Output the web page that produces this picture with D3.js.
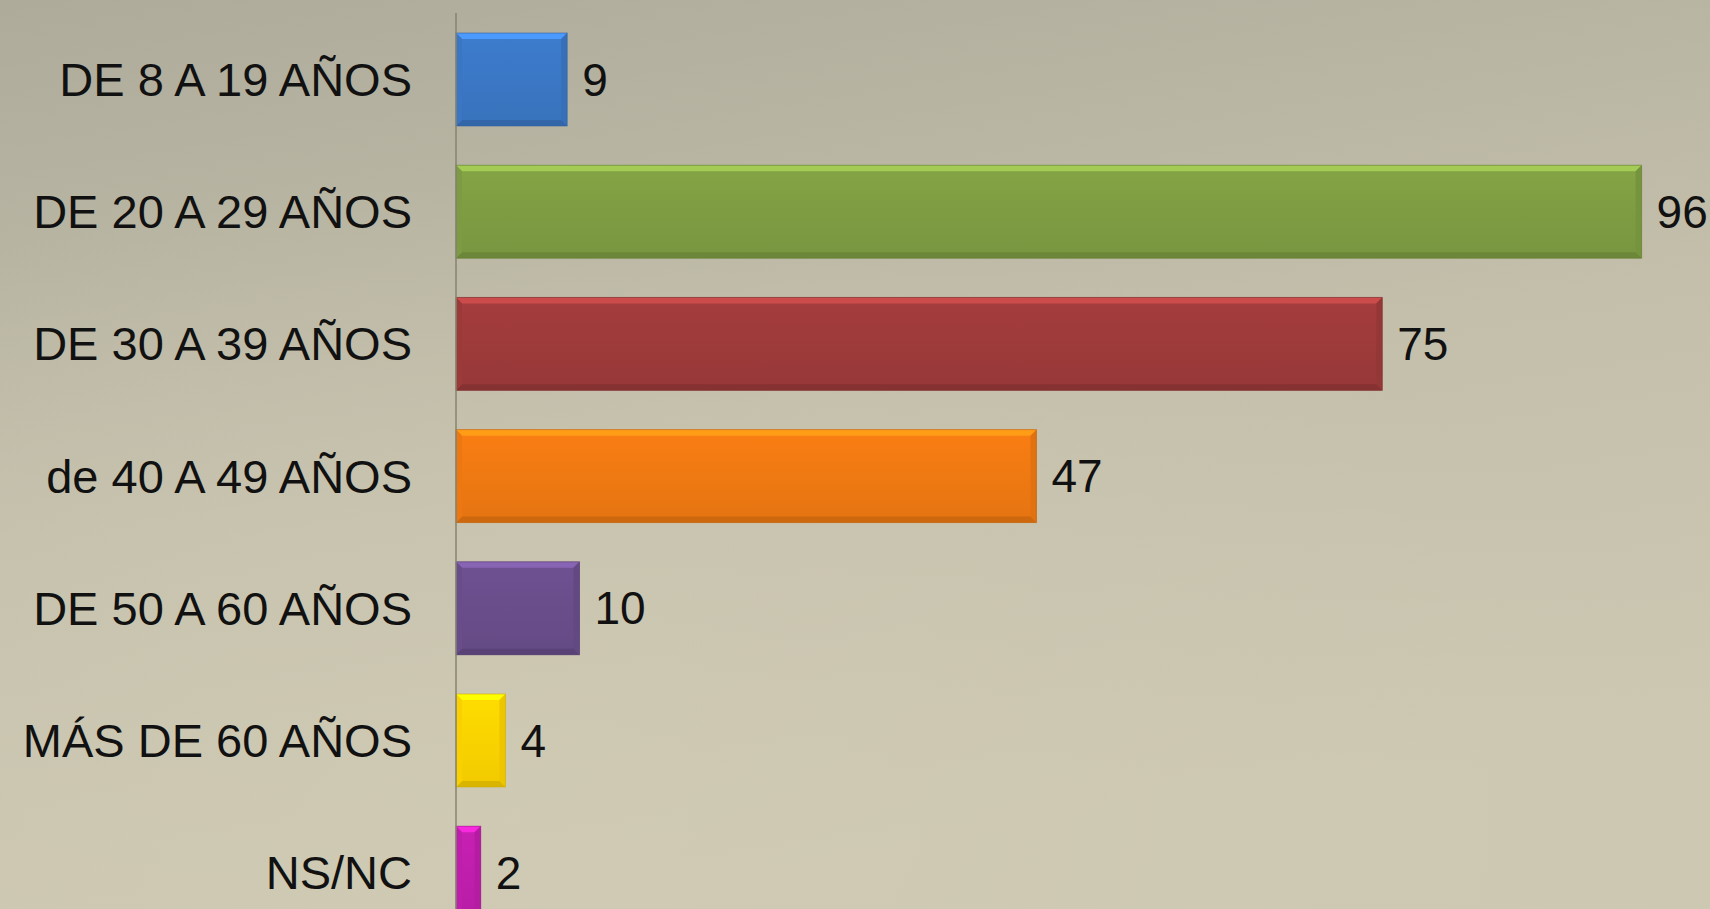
<!DOCTYPE html>
<html><head><meta charset="utf-8">
<script src="https://cdn.jsdelivr.net/npm/d3@7"></script>
<style>html,body{margin:0;padding:0;overflow:hidden;background:#bdb9a6}</style>
</head><body>
<svg id="c" width="1710" height="909"></svg>
<script>
const categories = ["DE 8 A 19 AÑOS","DE 20 A 29 AÑOS","DE 30 A 39 AÑOS","de 40 A 49 AÑOS","DE 50 A 60 AÑOS","MÁS DE 60 AÑOS","NS/NC"];
const values = [9,96,75,47,10,4,2];
const colors = ["#3b78c6","#7f9e43","#9f3b3b","#f17a12","#6a4e8c","#ffd500","#c11fae"];

const W=1710,H=909;
const svg=d3.select("#c");
const defs=svg.append("defs");
const bg=defs.append("linearGradient").attr("id","bg").attr("x1",0).attr("y1",0).attr("x2",0.3).attr("y2",1);
bg.append("stop").attr("offset","0%").attr("stop-color","#aeab9b");
bg.append("stop").attr("offset","55%").attr("stop-color","#c3bfab");
bg.append("stop").attr("offset","100%").attr("stop-color","#cdc8b2");
const rg=defs.append("radialGradient").attr("id","rg").attr("cx",0.3).attr("cy",0.9).attr("r",0.7);
rg.append("stop").attr("offset","0%").attr("stop-color","#d2ccb6").attr("stop-opacity",0.6);
rg.append("stop").attr("offset","100%").attr("stop-color","#d2ccb6").attr("stop-opacity",0);
svg.append("rect").attr("width",W).attr("height",H).attr("fill","url(#bg)");
svg.append("rect").attr("width",W).attr("height",H).attr("fill","url(#rg)");

colors.forEach((c,i)=>{
  const g=defs.append("linearGradient").attr("id","g"+i).attr("x1",0).attr("y1",0).attr("x2",0).attr("y2",1);
  g.append("stop").attr("offset","0%").attr("stop-color",d3.color(c).brighter(0.1));
  g.append("stop").attr("offset","100%").attr("stop-color",d3.color(c).darker(0.15));
});

const x=d3.scaleLinear().domain([0,100]).range([456,1691]);
const y=d3.scaleBand().domain(categories).range([13.4,938.8]).paddingInner(0.297).paddingOuter(0.1485);
const b=6;
const data=categories.map((c,i)=>({c,v:values[i],col:colors[i],i}));

const bars=svg.append("g").selectAll("g").data(data).join("g");
bars.append("rect")
  .attr("x",x(0)).attr("y",d=>y(d.c))
  .attr("width",d=>x(d.v)-x(0)).attr("height",y.bandwidth())
  .attr("fill",d=>"url(#g"+d.i+")");
bars.append("path").attr("d",d=>{
  const x0=x(0),x1=x(d.v),y0=y(d.c);
  return `M${x0},${y0}L${x1},${y0}L${x1-b},${y0+b}L${x0+b},${y0+b}Z`;
}).attr("fill",d=>d3.color(d.col).brighter(0.7));
bars.append("path").attr("d",d=>{
  const x1=x(d.v),y0=y(d.c),y1=y0+y.bandwidth();
  return `M${x1},${y0}L${x1},${y1}L${x1-b},${y1-b}L${x1-b},${y0+b}Z`;
}).attr("fill",d=>d3.color(d.col).darker(0.2));
bars.append("path").attr("d",d=>{
  const x0=x(0),x1=x(d.v),y1=y(d.c)+y.bandwidth();
  return `M${x0},${y1}L${x1},${y1}L${x1-b},${y1-b}L${x0+b},${y1-b}Z`;
}).attr("fill",d=>d3.color(d.col).darker(0.45));
bars.append("path").attr("d",d=>{
  const x0=x(0),y0=y(d.c),y1=y0+y.bandwidth();
  return `M${x0},${y0}L${x0+b},${y0+b}L${x0+b},${y1-b}L${x0},${y1}Z`;
}).attr("fill",d=>d3.color(d.col).darker(0.05));
bars.append("rect")
  .attr("x",x(0)).attr("y",d=>y(d.c))
  .attr("width",d=>x(d.v)-x(0)).attr("height",y.bandwidth())
  .attr("fill","none").attr("stroke",d=>d3.color(d.col).darker(0.6)).attr("stroke-width",1).attr("stroke-opacity",0.6);

svg.append("line").attr("x1",x(0)).attr("x2",x(0)).attr("y1",13).attr("y2",H)
  .attr("stroke","#86836f").attr("stroke-width",1.5);

const font="'Liberation Sans', Arial, sans-serif";
svg.append("g").selectAll("text").data(data).join("text")
  .attr("x",412).attr("y",d=>y(d.c)+y.bandwidth()/2)
  .attr("text-anchor","end").attr("dominant-baseline","central")
  .attr("font-family",font).attr("font-size",47)
  .attr("fill","#111").text(d=>d.c);
svg.append("g").selectAll("text").data(data).join("text")
  .attr("x",d=>x(d.v)+15).attr("y",d=>y(d.c)+y.bandwidth()/2)
  .attr("dominant-baseline","central")
  .attr("font-family",font).attr("font-size",46)
  .attr("fill","#111").text(d=>d.v);
</script>
</body></html>
